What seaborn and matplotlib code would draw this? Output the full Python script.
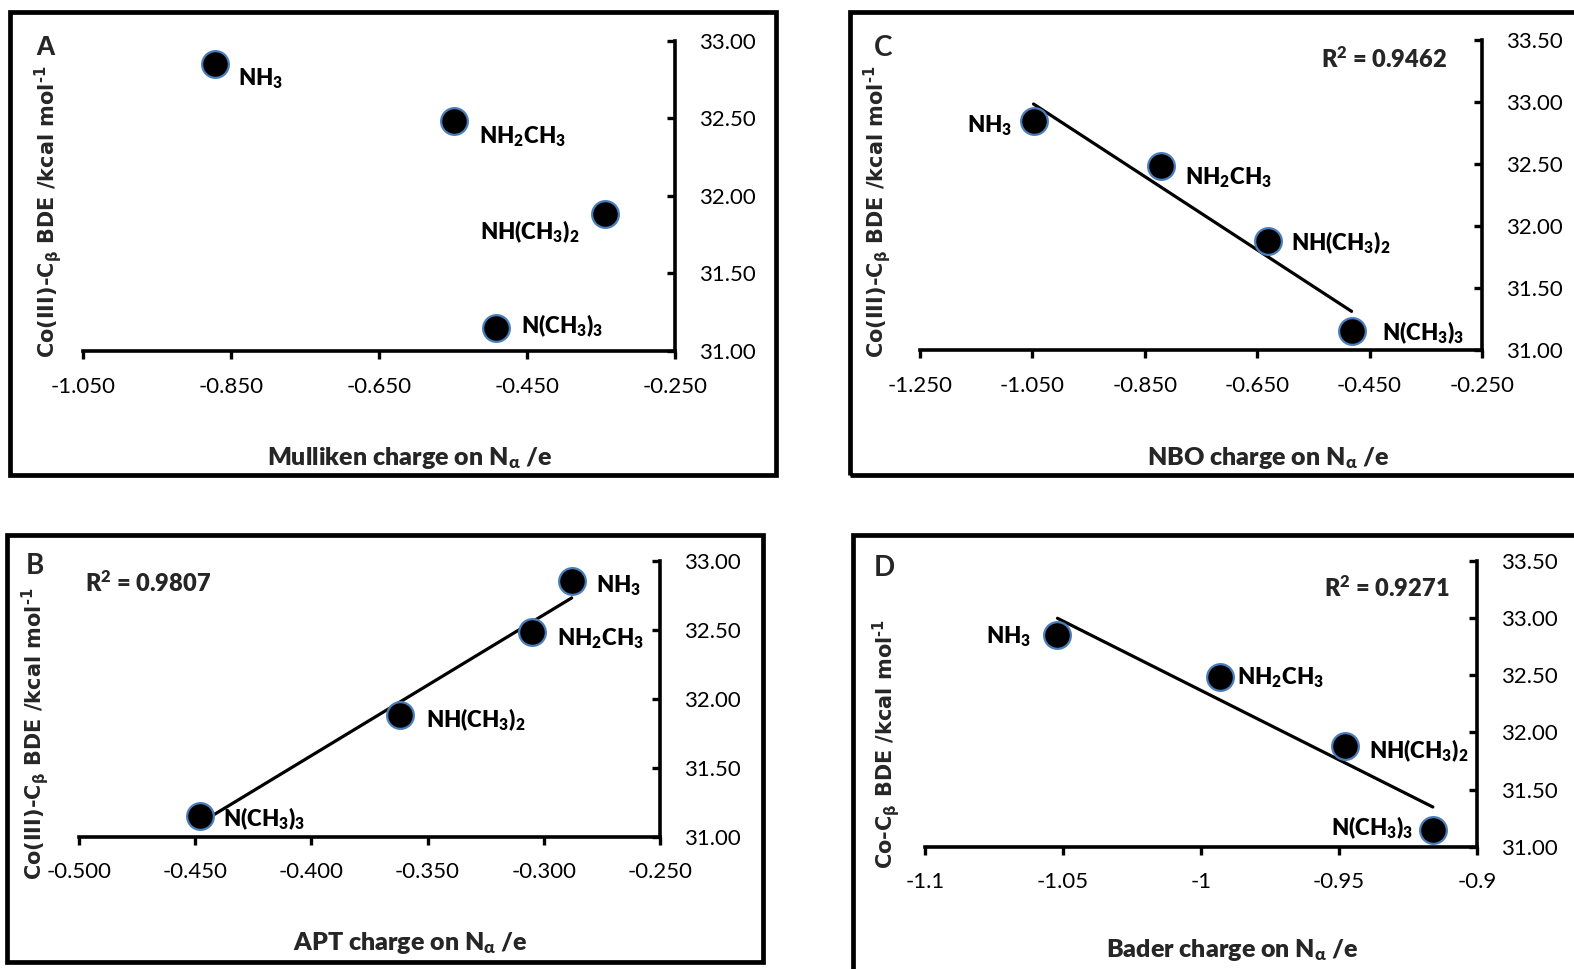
import numpy as np
import pandas as pd
import matplotlib
matplotlib.use("Agg")
import matplotlib.pyplot as plt
import seaborn as sns
from matplotlib.patches import Rectangle

# ---------------- data ----------------
amines = ["NH$_3$", "NH$_2$CH$_3$", "NH(CH$_3$)$_2$", "N(CH$_3$)$_3$"]
bde = [32.85, 32.48, 31.88, 31.15]

mulliken = [-0.871, -0.548, -0.345, -0.492]
apt = [-0.288, -0.305, -0.362, -0.448]
nbo = [-1.048, -0.821, -0.631, -0.482]
bader = [-1.052, -0.993, -0.948, -0.916]

r2_apt = "0.9807"
r2_nbo = "0.9462"
r2_bader = "0.9271"

mulliken_ticks = [-1.05, -0.85, -0.65, -0.45, -0.25]
mulliken_ticklabels = ["-1.050", "-0.850", "-0.650", "-0.450", "-0.250"]
apt_ticks = [-0.50, -0.45, -0.40, -0.35, -0.30, -0.25]
apt_ticklabels = ["-0.500", "-0.450", "-0.400", "-0.350", "-0.300", "-0.250"]
nbo_ticks = [-1.25, -1.05, -0.85, -0.65, -0.45, -0.25]
nbo_ticklabels = ["-1.250", "-1.050", "-0.850", "-0.650", "-0.450", "-0.250"]
bader_ticks = [-1.1, -1.05, -1.0, -0.95, -0.9]
bader_ticklabels = ["-1.1", "-1.05", "-1", "-0.95", "-0.9"]

bde_ticks_a = [31.0, 31.5, 32.0, 32.5, 33.0]
bde_ticks_b = [31.0, 31.5, 32.0, 32.5, 33.0, 33.5]

# ---------------- style ----------------
sns.set_theme(style="white")
plt.rcParams["font.family"] = ["Lato", "DejaVu Sans"]
plt.rcParams["mathtext.default"] = "regular"
plt.rcParams["axes.unicode_minus"] = False

W, H = 1574, 969
fig = plt.figure(figsize=(W / 100, H / 100), dpi=100)

def fx(px):
    return px / W

def fy(py):
    return 1 - py / H

def box(x0, y0, x1, y1):
    fig.patches.append(Rectangle((fx(x0), fy(y1)), fx(x1) - fx(x0), fy(y0) - fy(y1),
                                 transform=fig.transFigure, fill=False,
                                 edgecolor="black", linewidth=3.4, zorder=0))

ARIAL = ["Liberation Sans", "DejaVu Sans"]
YFONT = ["DejaVu Sans"]

def panel(ax_px, xvals, xticks, xticklabels, yticks, xlabel, xlabel_pos,
          ylabel, ylabel_pos, letter, letter_pos, letter_font, offsets,
          r2=None, r2_pos=None):
    l, r, t, b = ax_px
    ax = fig.add_axes([fx(l), fy(b), fx(r) - fx(l), fy(t) - fy(b)])
    df = pd.DataFrame({"x": xvals, "y": bde, "name": amines})
    if r2 is not None:
        sns.regplot(data=df, x="x", y="y", ax=ax, scatter=False, ci=None,
                    truncate=True, line_kws={"color": "black", "linewidth": 2.3})
    sns.scatterplot(data=df, x="x", y="y", ax=ax, s=370, color="black",
                    edgecolor="#4A7EBB", linewidth=1.6, zorder=5, clip_on=False)
    ax.set_xlim(xticks[0], xticks[-1])
    ax.set_ylim(yticks[0], yticks[-1])
    ax.set_xticks(xticks)
    ax.set_xticklabels(xticklabels)
    ax.set_yticks(yticks)
    ax.set_yticklabels([f"{v:.2f}" for v in yticks])
    ax.yaxis.tick_right()
    ax.set_xlabel("")
    ax.set_ylabel("")
    for s in ["left", "top"]:
        ax.spines[s].set_visible(False)
    for s in ["right", "bottom"]:
        ax.spines[s].set_visible(True)
        ax.spines[s].set_linewidth(2.6)
        ax.spines[s].set_color("black")
    ax.tick_params(axis="x", direction="out", length=6, width=2.4, pad=12.5,
                   labelsize=16, colors="black", bottom=True)
    ax.tick_params(axis="y", direction="in", length=6, width=2.4, pad=17,
                   labelsize=16, colors="black", right=True, left=False)
    ax.patch.set_alpha(0)
    for name, xv, yv, (dx, dy, ha) in zip(amines, xvals, bde, offsets):
        ax.annotate(name, (xv, yv), xytext=(dx * 0.72, -dy * 0.72),
                    textcoords="offset points", ha=ha, va="baseline",
                    fontsize=16, fontweight="heavy", color="black", zorder=6)
    fig.text(fx(xlabel_pos[0]), fy(xlabel_pos[1]), xlabel, ha="center",
             va="baseline", fontsize=18, fontweight="heavy")
    fig.text(fx(ylabel_pos[0]), fy(ylabel_pos[1]), ylabel, ha="center",
             va="center", rotation=90, fontsize=15,
             fontweight="bold", family=YFONT)
    fig.text(fx(letter_pos[0]), fy(letter_pos[1]), letter, ha="center",
             va="center", fontsize=20, fontweight="bold", family=letter_font)
    if r2 is not None:
        fig.text(fx(r2_pos[0]), fy(r2_pos[1]), "R$^2$ = " + r2, ha="center",
                 va="center", fontsize=17, fontweight="heavy")
    return ax

ylab_full = "Co(III)-C$_β$ BDE /kcal mol$^{‐1}$"
ylab_short = "Co-C$_β$ BDE /kcal mol$^{‐1}$"

# boxes
box(10, 12, 776, 475)
box(850, 12, 1590, 475)
box(7, 535, 763, 962)
box(853, 535, 1590, 985)

# A: Mulliken
panel((83, 675, 40.7, 351), mulliken, mulliken_ticks, mulliken_ticklabels,
      bde_ticks_a, "Mulliken charge on N$_α$ /e", (410, 465),
      ylab_full, (48, 212), "A", (45, 48), ARIAL,
      [(23, 21, "left"), (25, 22, "left"), (-25, 25, "right"), (25, 5, "left")])

# C: NBO
panel((920, 1482, 40, 350), nbo, nbo_ticks, nbo_ticklabels,
      bde_ticks_b, "NBO charge on N$_α$ /e", (1268, 465),
      ylab_full, (877, 212), "C", (883, 48), ["Lato", "DejaVu Sans"],
      [(-21, 12, "right"), (24, 18, "left"), (23, 9, "left"), (30, 9, "left")],
      r2=r2_nbo, r2_pos=(1384, 59))

# B: APT
panel((79, 660, 560.7, 836.7), apt, apt_ticks, apt_ticklabels,
      bde_ticks_a, "APT charge on N$_α$ /e", (410, 950),
      ylab_full, (35, 734), "B", (35, 566), ["Lato", "DejaVu Sans"],
      [(24, 11, "left"), (25, 13, "left"), (26, 12, "left"), (23, 10, "left")],
      r2=r2_apt, r2_pos=(148, 583))

# D: Bader
panel((925, 1477, 560.7, 846.7), bader, bader_ticks, bader_ticklabels,
      bde_ticks_b, "Bader charge on N$_α$ /e", (1232, 957),
      ylab_short, (886, 744), "D", (884, 568), ["Lato", "DejaVu Sans"],
      [(-26, 8, "right"), (17, 7, "left"), (24, 12, "left"), (-20, 6, "right")],
      r2=r2_bader, r2_pos=(1387, 588))

fig.savefig("out.png", dpi=100)
